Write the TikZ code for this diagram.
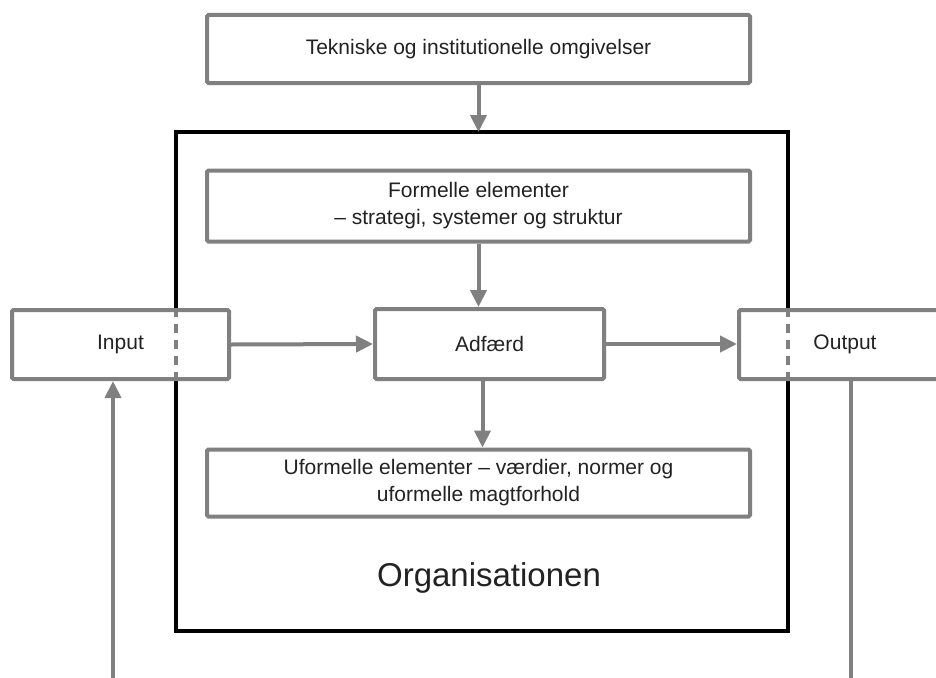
\documentclass[tikz,border=0pt]{standalone}
\usepackage{fontspec}
\setmainfont{Liberation Sans}
\usetikzlibrary{arrows.meta}
\definecolor{boxgray}{HTML}{808080}
\definecolor{txt}{HTML}{222222}
\begin{document}
\begin{tikzpicture}[x=1pt,y=-1pt,
  gbox/.style={draw=boxgray, line width=4pt, fill=white, rounded corners=1.5pt,
    inner sep=0pt, text=txt, font=\fontsize{21}{27}\selectfont, align=center},
  arr/.style={draw=boxgray, line width=4pt, -{Triangle[length=17pt,width=16pt]}},
  plain/.style={draw=boxgray, line width=4pt},
  dashpart/.style={draw=boxgray, line width=4pt, dash pattern=on 9pt off 7pt}]
\useasboundingbox (0,0) rectangle (936,677);
\begin{scope}
\clip (0,0) rectangle (936,677);
\node[draw=black, line width=3.5pt, minimum width=612pt, minimum height=499pt,
  inner sep=0pt, outer sep=0pt, anchor=north west] (org) at (176,132) {};
\node[text=txt, font=\fontsize{33}{40}\selectfont] (orgtxt) at (489,578) {Organisationen};
\node[gbox, minimum width=543pt, minimum height=68pt] (top) at (478.5,49) {Tekniske og institutionelle omgivelser};
\node[gbox, minimum width=543pt, minimum height=71pt] (form) at (478.5,206) {Formelle elementer\\ – strategi, systemer og struktur};
\node[gbox, minimum width=229pt, minimum height=70pt] (adf) at (489.5,344) {Adfærd};
\node[gbox, minimum width=543pt, minimum height=67pt] (uform) at (478.5,483) {Uformelle elementer – værdier, normer og\\ uformelle magtforhold};
\node[gbox, minimum width=217pt, minimum height=69pt] (input) at (120.5,344.5) {Input};
\node[gbox, minimum width=212pt, minimum height=69pt] (output) at (845,344.5) {Output};
\draw[dashpart] (input.north -| org.west) -- (input.south -| org.west);
\draw[dashpart] (output.north -| org.east) -- (output.south -| org.east);
\draw[arr] (top.south) -- (top.south |- org.north);
\draw[arr] (form.south) -- (form.south |- adf.north);
\draw[arr] ([xshift=-7pt]adf.south) -- ([xshift=-7pt]adf.south |- uform.north);
\draw[arr] (input.east) -- (adf.west);
\draw[arr] (adf.east) -- (output.west |- adf.east);
\coordinate (inb) at (113,682);
\coordinate (outb) at (851,682);
\draw[arr] (inb) -- (inb |- input.south);
\draw[plain] (output.south -| outb) -- (outb);
\end{scope}
\end{tikzpicture}
\end{document}
